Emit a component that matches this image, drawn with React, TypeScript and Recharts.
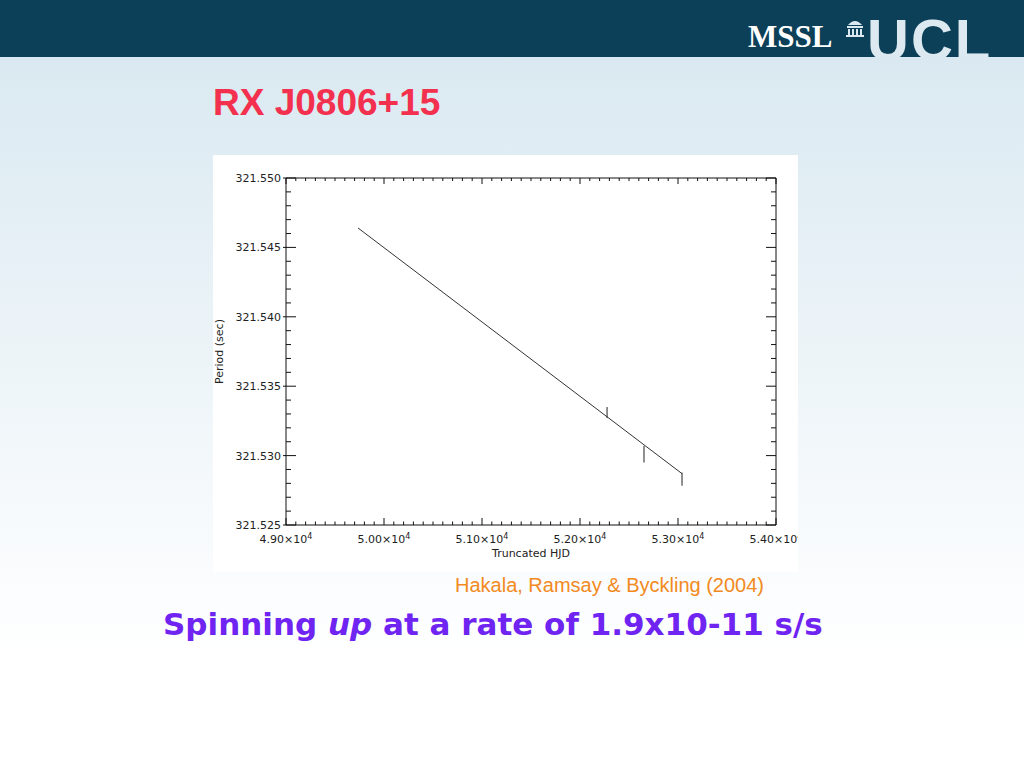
import React from "react";
import { ComposedChart, Line, Scatter, ErrorBar, XAxis, YAxis } from "recharts";

// straight-line fit of period vs truncated HJD
const fitHjd = [49735, 53041];
const fitPeriod = [321.5464, 321.5287];

// measured periods and their 1-sigma errors
const obsHjd = [52276, 52653, 53041];
const obsPeriod = [321.5331, 321.5301, 321.5283];
const obsErr = [0.0004, 0.0006, 0.00047];

const xMajorTicks = [49000, 50000, 51000, 52000, 53000, 54000];
const xMajorLabels = ["4.90", "5.00", "5.10", "5.20", "5.30", "5.40"];
const yMajorTicks = [321.525, 321.53, 321.535, 321.54, 321.545, 321.55];
const yMajorLabels = ["321.525", "321.530", "321.535", "321.540", "321.545", "321.550"];

const xDomain = [49000, 54000];
const yDomain = [321.525, 321.55];

// IDL style minor ticks: 10 per major step on x, 5 on y
const xTicks: number[] = [];
for (let i = 0; i <= 50; i++) xTicks.push(49000 + i * 100);
const yTicks: number[] = [];
for (let i = 0; i <= 25; i++) yTicks.push(Number((321.525 + i * 0.001).toFixed(3)));

const fitData = fitHjd.map((h, i) => ({ hjd: h, period: fitPeriod[i] }));
const obsData = obsHjd.map((h, i) => ({ hjd: h, period: obsPeriod[i], err: obsErr[i] }));

const AX = "#111";
const tickFont = { fontFamily: "'DejaVu Sans', sans-serif", fontSize: 11, fill: "#222" };

const yIndex = (v: number) => yMajorTicks.findIndex((t) => Math.abs(t - v) < 1e-7);

function BottomTick(props: any) {
  const { x, y, payload } = props;
  const i = xMajorTicks.indexOf(payload.value);
  return (
    <g>
      <line x1={x} y1={y} x2={x} y2={y - (i >= 0 ? 7 : 3.5)} stroke={AX} />
      {i >= 0 && (
        <text x={x} y={y + 18} textAnchor="middle" {...tickFont}>
          {xMajorLabels[i]}×10
          <tspan dy={-4} fontSize={8}>4</tspan>
        </text>
      )}
    </g>
  );
}

function TopTick(props: any) {
  const { x, y, payload } = props;
  const major = xMajorTicks.indexOf(payload.value) >= 0;
  return <line x1={x} y1={y} x2={x} y2={y + (major ? 6 : 3)} stroke={AX} />;
}

function LeftTick(props: any) {
  const { x, y, payload } = props;
  const i = yIndex(payload.value);
  return (
    <g>
      <line x1={i >= 0 ? x - 3 : x} y1={y} x2={x + (i >= 0 ? 10 : 5)} y2={y} stroke={AX} />
      {i >= 0 && (
        <text x={x - 5} y={y + 4} textAnchor="end" {...tickFont}>
          {yMajorLabels[i]}
        </text>
      )}
    </g>
  );
}

function RightTick(props: any) {
  const { x, y, payload } = props;
  const major = yIndex(payload.value) >= 0;
  return <line x1={x} y1={y} x2={x - (major ? 10 : 5)} y2={y} stroke={AX} />;
}

function XTitle(props: any) {
  const vb = props.viewBox;
  return (
    <text x={vb.x + vb.width / 2} y={vb.y + 32} textAnchor="middle" {...tickFont}>
      Truncated HJD
    </text>
  );
}

function YTitle(props: any) {
  const vb = props.viewBox;
  const cx = vb.x + 10;
  const cy = vb.y + vb.height / 2;
  return (
    <text x={cx} y={cy} textAnchor="middle" transform={`rotate(-90 ${cx} ${cy})`} {...tickFont}>
      Period (sec)
    </text>
  );
}

function Slide() {
  return (
    <svg width={1024} height={768} style={{ position: "absolute", left: 0, top: 0 }}>
      <defs>
        <linearGradient id="bg" x1="0" y1="57" x2="0" y2="660" gradientUnits="userSpaceOnUse">
          <stop offset="0" stopColor="#dae9f1" />
          <stop offset="1" stopColor="#ffffff" />
        </linearGradient>
        <clipPath id="bar">
          <rect x={0} y={0} width={1024} height={57} />
        </clipPath>
      </defs>
      <rect x={0} y={57} width={1024} height={711} fill="url(#bg)" />
      <rect x={0} y={0} width={1024} height={57} fill="#0c4058" />
      <g clipPath="url(#bar)">
        <text x={748} y={47} fontFamily="'Liberation Serif', serif" fontWeight="bold" fontSize={31} fill="#ffffff">
          MSSL
        </text>
        <g fill="#dce9f0">
          <path d="M848 25 Q855 17 862 25 Z" />
          <rect x={847} y={26} width={16} height={2} />
          <rect x={848} y={29} width={2} height={6} />
          <rect x={852} y={29} width={2} height={6} />
          <rect x={856} y={29} width={2} height={6} />
          <rect x={860} y={29} width={2} height={6} />
          <rect x={846} y={35} width={18} height={2} />
        </g>
        <text x={867} y={60} fontFamily="'Liberation Sans', sans-serif" fontWeight="bold" fontSize={58} letterSpacing={2} fill="#dce9f0">
          UCL
        </text>
      </g>
      <text x={213} y={115} fontFamily="'Liberation Sans', sans-serif" fontWeight="bold" fontSize={37} fill="#f3304e">
        RX J0806+15
      </text>
      <text x={455} y={592} fontFamily="'Liberation Sans', sans-serif" fontSize={20} fill="#f28a22">
        Hakala, Ramsay &amp; Byckling (2004)
      </text>
      <text x={163} y={635} fontFamily="'DejaVu Sans', sans-serif" fontWeight="bold" fontSize={31} fill="#6f24f2">
        Spinning <tspan fontStyle="italic">up</tspan> at a rate of 1.9x10-11 s/s
      </text>
    </svg>
  );
}

export default function App() {
  return (
    <div style={{ position: "absolute", left: 0, top: 0, width: 1024, height: 768, overflow: "hidden" }}>
      <Slide />
      <div style={{ position: "absolute", left: 213, top: 155, width: 585, height: 417, background: "#ffffff", overflow: "hidden" }}>
        <ComposedChart width={585} height={417} margin={{ top: 0, right: 0, bottom: 0, left: 0 }}>
          <XAxis
            xAxisId="bottom"
            type="number"
            dataKey="hjd"
            domain={xDomain}
            allowDataOverflow
            ticks={xTicks}
            interval={0}
            tickSize={0}
            tickMargin={0}
            tickLine={false}
            tick={<BottomTick />}
            height={47}
            axisLine={{ stroke: AX }}
            label={<XTitle />}
          />
          <XAxis
            xAxisId="top"
            orientation="top"
            type="number"
            dataKey="hjd"
            domain={xDomain}
            allowDataOverflow
            ticks={xTicks}
            interval={0}
            tickSize={0}
            tickMargin={0}
            tickLine={false}
            tick={<TopTick />}
            height={23}
            axisLine={{ stroke: AX }}
          />
          <YAxis
            yAxisId="left"
            type="number"
            domain={yDomain}
            allowDataOverflow
            ticks={yTicks}
            interval={0}
            tickSize={0}
            tickMargin={0}
            tickLine={false}
            tick={<LeftTick />}
            width={73}
            axisLine={{ stroke: AX }}
            label={<YTitle />}
          />
          <YAxis
            yAxisId="right"
            orientation="right"
            type="number"
            dataKey="period"
            domain={yDomain}
            allowDataOverflow
            ticks={yTicks}
            interval={0}
            tickSize={0}
            tickMargin={0}
            tickLine={false}
            tick={<RightTick />}
            width={22}
            axisLine={{ stroke: AX }}
          />
          <Line
            xAxisId="bottom"
            yAxisId="left"
            data={fitData}
            dataKey="period"
            type="linear"
            stroke="#333"
            strokeWidth={1}
            dot={false}
            isAnimationActive={false}
          />
          <Scatter
            xAxisId="top"
            yAxisId="right"
            data={obsData}
            dataKey="period"
            shape={() => <g />}
            isAnimationActive={false}
          >
            <ErrorBar dataKey="err" direction="y" width={0} stroke="#222" strokeWidth={1} />
          </Scatter>
        </ComposedChart>
      </div>
    </div>
  );
}
